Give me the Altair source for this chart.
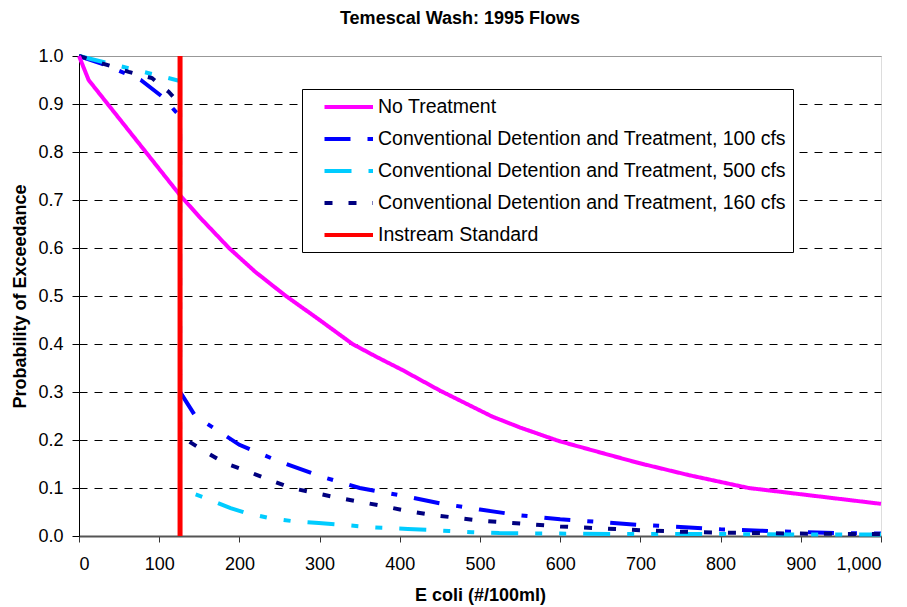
import altair as alt
import pandas as pd

FONT = "Liberation Sans"

series_names = [
    "No Treatment",
    "Conventional Detention and Treatment, 100 cfs",
    "Conventional Detention and Treatment, 500 cfs",
    "Conventional Detention and Treatment, 160 cfs",
    "Instream Standard",
]
series_colors = ["#FF00FF", "#0000FF", "#00CCFF", "#000080", "#FF0000"]
series_dashes = [[1, 0], [26, 17, 6, 17], [27, 17, 7, 17, 7, 17], [8, 16], [1, 0]]

no_treat_x = [0, 12, 126, 150, 187, 220, 258, 300, 341, 370, 403, 450, 515, 550, 598,
              650, 698, 760, 835, 920, 1000]
no_treat_p = [1.0, 0.95, 0.71, 0.665, 0.60, 0.55, 0.50, 0.45, 0.40, 0.374, 0.346, 0.303,
              0.249, 0.226, 0.198, 0.174, 0.152, 0.127, 0.10, 0.083, 0.067]

cfs100_x = [0, 33, 77, 104, 120, 126, 126, 145, 200, 250, 300, 350, 400, 450, 500,
            550, 600, 650, 700, 750, 800, 850, 900, 950, 1000]
cfs100_p = [1.0, 0.981, 0.95, 0.915, 0.885, 0.875, 0.30, 0.25, 0.19, 0.155, 0.125, 0.10,
            0.085, 0.068, 0.055, 0.043, 0.035, 0.029, 0.023, 0.019, 0.014, 0.011,
            0.008, 0.006, 0.005]

cfs500_x = [0, 126, 126, 137, 158, 189, 208, 237, 266, 299, 330, 359, 378, 410, 440,
            461, 490, 524, 600, 700, 800, 900, 1000]
cfs500_p = [1.0, 0.948, 0.10, 0.092, 0.079, 0.058, 0.048, 0.0375, 0.031, 0.027, 0.023,
            0.019, 0.017, 0.0146, 0.0125, 0.0104, 0.008, 0.006, 0.005, 0.004, 0.004,
            0.003, 0.003]

cfs160_x = [0, 62, 91, 112, 126, 126, 136, 158, 183, 210, 237, 265, 293, 322, 351, 380,
            410, 440, 470, 500, 550, 600, 650, 700, 750, 800, 850, 900, 1000]
cfs160_p = [1.0, 0.967, 0.954, 0.925, 0.90, 0.22, 0.198, 0.175, 0.151, 0.135, 0.117,
            0.10, 0.09, 0.08, 0.071, 0.062, 0.052, 0.044, 0.038, 0.032, 0.026, 0.02,
            0.016, 0.012, 0.009, 0.007, 0.006, 0.005, 0.004]

standard_x = [126, 126]
standard_p = [0.0, 1.0]

x_ticks = [0, 100, 200, 300, 400, 500, 600, 700, 800, 900, 1000]
y_ticks = [0.0, 0.1, 0.2, 0.3, 0.4, 0.5, 0.6, 0.7, 0.8, 0.9, 1.0]


def frame(name, xs, ps):
    return pd.DataFrame({"series": name, "x": xs, "p": ps, "idx": list(range(len(xs)))})


untreated = frame(series_names[0], no_treat_x, no_treat_p)
treated = pd.concat([
    frame(series_names[1], cfs100_x, cfs100_p),
    frame(series_names[2], cfs500_x, cfs500_p),
    frame(series_names[3], cfs160_x, cfs160_p),
], ignore_index=True)
standard = frame(series_names[4], standard_x, standard_p)

legend = alt.Legend(
    title=None,
    orient="none",
    legendX=223,
    legendY=33,
    direction="vertical",
    symbolType="M0.5,0H5.889",
    symbolSize=324,
    symbolStrokeWidth=4,
    labelOffset=47,
    labelFontSize=19.5,
    labelFont=FONT,
    labelColor="black",
    labelLimit=0,
    rowPadding=11,
    padding=7,
    strokeColor="black",
    fillColor="white",
)

color = alt.Color("series:N", scale=alt.Scale(domain=series_names, range=series_colors),
                  legend=legend)
dash = alt.StrokeDash("series:N", scale=alt.Scale(domain=series_names, range=series_dashes),
                      legend=legend)

x_enc = alt.X(
    "x:Q",
    scale=alt.Scale(domain=[0, 1000], nice=False),
    axis=alt.Axis(
        values=x_ticks, format=",.0f", title="E coli (#/100ml)", grid=False,
        labelFontSize=18, labelFont=FONT, labelColor="black", labelPadding=13,
        tickSize=6, tickColor="#333333", domainColor="#555555", domainWidth=2,
        titleFontSize=18, titleFont=FONT, titleFontWeight="bold", titleColor="black",
        titlePadding=13,
    ),
)
y_enc = alt.Y(
    "p:Q",
    scale=alt.Scale(domain=[0, 1], nice=False),
    axis=alt.Axis(
        values=y_ticks, format=".1f", title="Probability of Exceedance", grid=True,
        gridColor=alt.condition("datum.value >= 1 || datum.value <= 0",
                                alt.value("#808080"), alt.value("#000000")),
        gridDash=alt.condition("datum.value >= 1 || datum.value <= 0",
                               alt.value([1, 0]), alt.value([8, 7])),
        gridWidth=1,
        labelFontSize=18, labelFont=FONT, labelColor="black", labelPadding=9,
        tickSize=7, tickColor="black", domainColor="black", domainWidth=1,
        titleFontSize=18, titleFont=FONT, titleFontWeight="bold", titleColor="black",
        titlePadding=8,
    ),
)

magenta = alt.Chart(untreated).mark_line(strokeWidth=4).encode(
    x=x_enc, y=y_enc, color=color, strokeDash=dash, order=alt.Order("idx:Q"),
)
lines = alt.Chart(treated).mark_line(strokeWidth=4).encode(
    x=x_enc, y=y_enc, color=color, strokeDash=dash, order=alt.Order("idx:Q"),
    detail="series:N",
)
std = alt.Chart(standard).mark_line(strokeWidth=5).encode(
    x=x_enc, y=y_enc, color=color, strokeDash=dash, order=alt.Order("idx:Q"),
)

chart = alt.layer(lines, magenta, std).properties(
    width=802,
    height=480,
    padding={"left": 3, "top": 2, "right": 10, "bottom": 5},
    title=alt.Title(
        "Temescal Wash: 1995 Flows", fontSize=18, font=FONT, fontWeight="bold",
        color="black", anchor="middle", frame="group", dx=-20, offset=18,
    ),
).configure_view(stroke="#808080", strokeWidth=1).configure(background="white")

chart.save("out.html", embed_options={"renderer": "svg", "actions": False})
